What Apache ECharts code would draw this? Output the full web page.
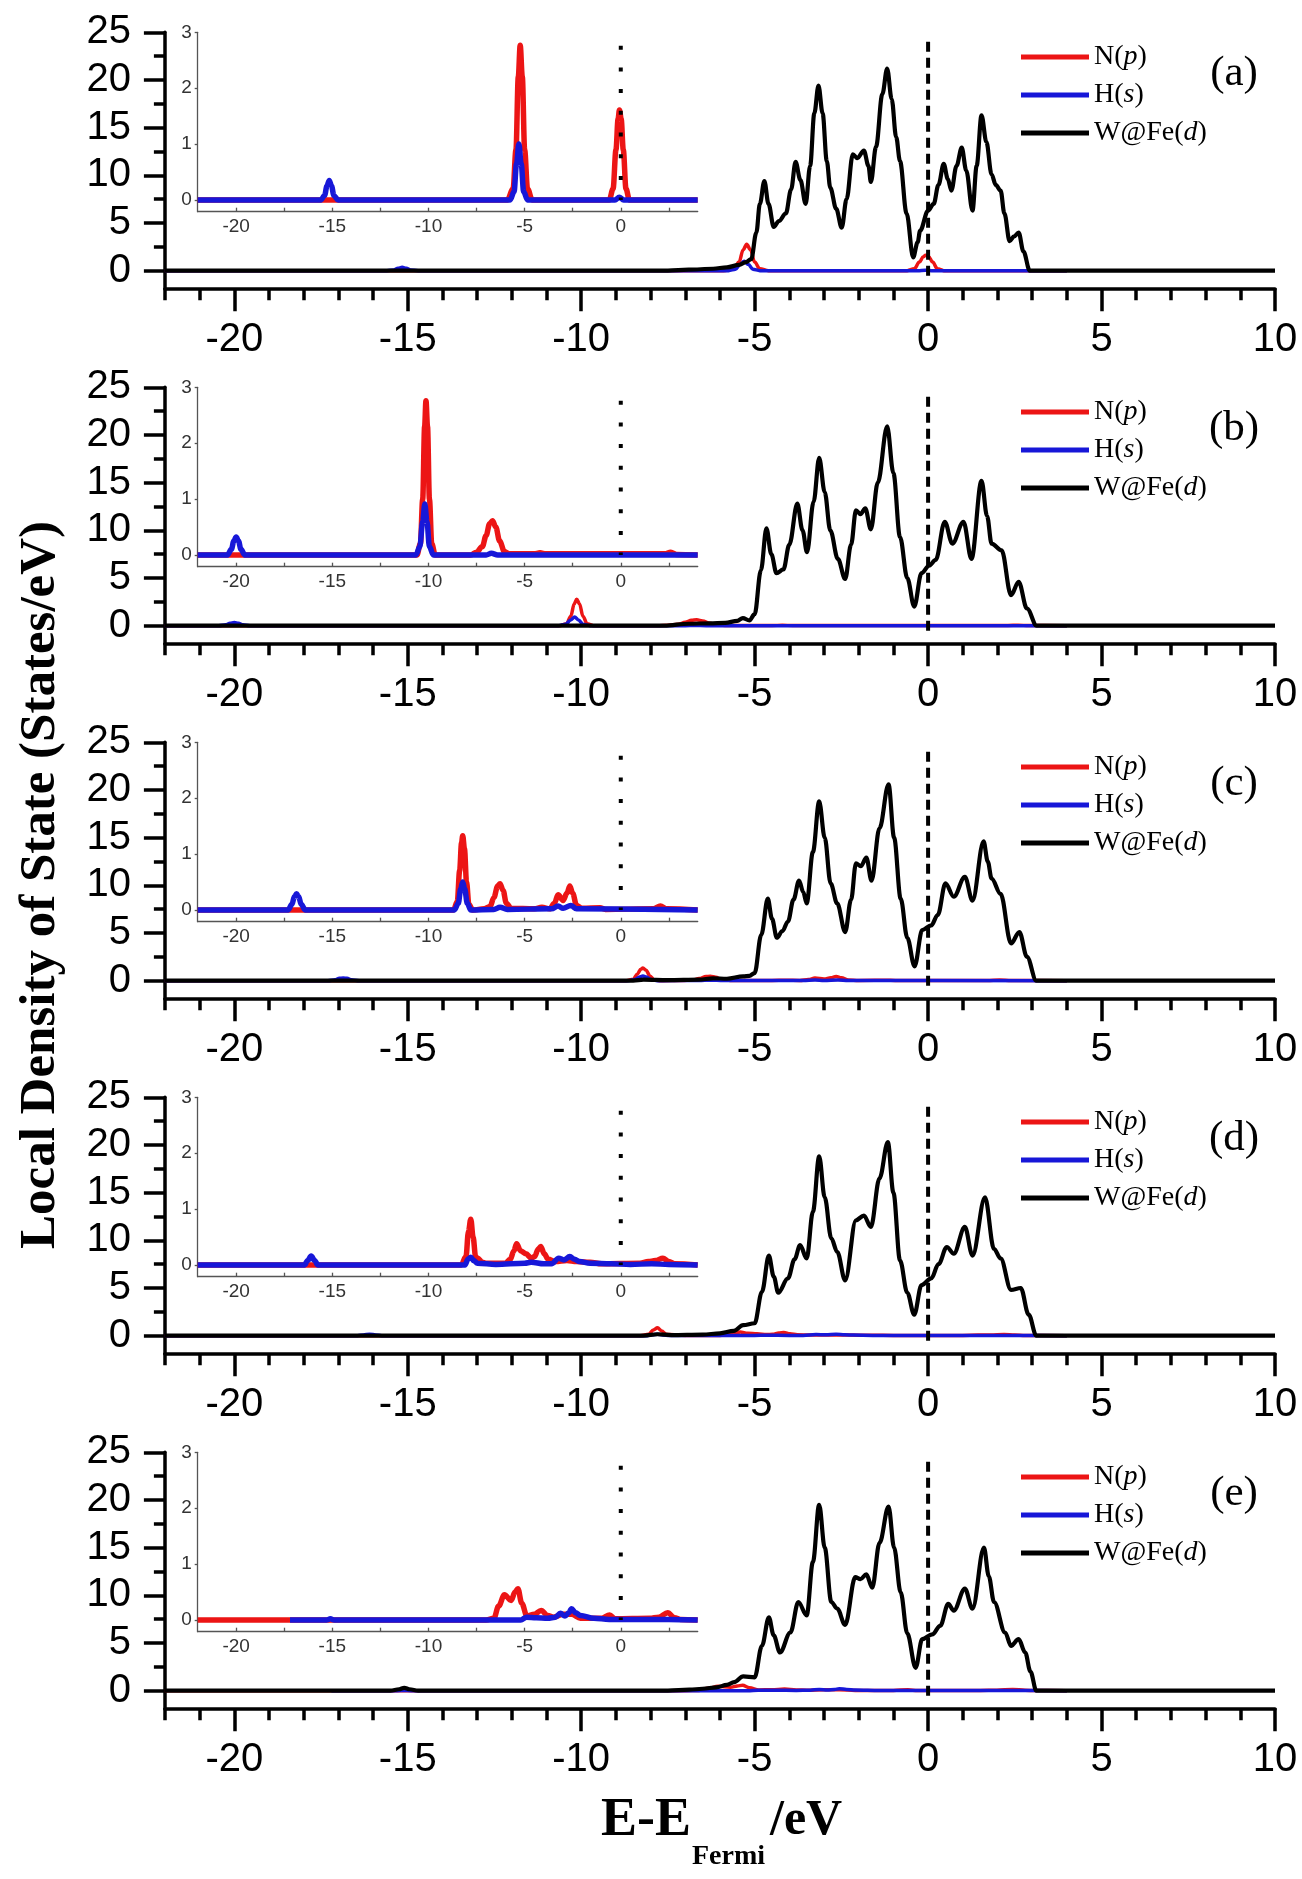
<!DOCTYPE html>
<html>
<head>
<meta charset="utf-8">
<script src="https://cdn.jsdelivr.net/npm/echarts@6/dist/echarts.min.js"></script>
<style>
  html, body { margin: 0; padding: 0; background: #fff; }
  #chart { width: 1302px; height: 1879px; }
</style>
</head>
<body>
<div id="chart"></div>
<script>
// ---- labels and ticks ----
const panelTags = ['(a)', '(b)', '(c)', '(d)', '(e)'];
const seriesNames = ['N(p)', 'H(s)', 'W@Fe(d)'];
const mainXTicks = [-20, -15, -10, -5, 0, 5, 10];
const mainYTicks = [0, 5, 10, 15, 20, 25];
const mainYMinorTicks = [2.5, 7.5, 12.5, 17.5, 22.5];
const insetXLabels = [-20, -15, -10, -5, 0];
const insetXTicks = [-20, -17.5, -15, -12.5, -10, -7.5, -5, -2.5, 0, 2.5];
const insetYTicks = [0, 1, 2, 3];
const fermiDash = [[0, 24], [0, -0.8]];
const fermiDots = [[0, 2.76], [0, 0]];

// ---- (a) ----
const wdA = [[-22,0],[-7.5,0],[-6.9,0.1],[-6.2,0.2],[-5.8,0.35],[-5.45,0.6],[-5.25,0.9],[-5.1,1.2],[-4.95,4],[-4.85,7],[-4.72,9.4],[-4.6,7],[-4.45,4.6],[-4.3,5.2],[-4.1,6.0],[-3.95,8.5],[-3.82,11.4],[-3.68,9.5],[-3.53,7.0],[-3.4,11],[-3.28,16.5],[-3.16,19.4],[-3.04,16.5],[-2.92,11.5],[-2.82,8.7],[-2.65,6.5],[-2.49,4.5],[-2.35,7.5],[-2.17,12.2],[-2.04,11.8],[-1.85,12.6],[-1.72,11],[-1.65,9.3],[-1.5,13],[-1.32,18.5],[-1.18,21.2],[-1.05,18],[-0.92,14],[-0.81,11.5],[-0.62,6],[-0.43,1.4],[-0.3,3.0],[-0.23,4.2],[0,6.3],[0.16,7.0],[0.3,9.0],[0.45,11.2],[0.57,9.6],[0.67,8.4],[0.82,11],[0.97,12.9],[1.1,10.5],[1.28,6.3],[1.4,11],[1.54,16.3],[1.68,13.5],[1.83,10.1],[1.95,9.0],[2.09,8.4],[2.2,6.0],[2.35,3.1],[2.48,3.6],[2.61,4.0],[2.75,2.0],[2.93,0],[10,0]];
const npA = [[-22,0],[-5.9,0],[-5.6,0.2],[-5.45,0.9],[-5.33,2.2],[-5.23,2.77],[-5.12,2.2],[-5.0,0.9],[-4.85,0.2],[-4.6,0],[-0.6,0],[-0.4,0.2],[-0.25,0.9],[-0.14,1.45],[-0.07,1.61],[0.02,1.45],[0.13,0.9],[0.27,0.2],[0.45,0],[4,0]];
const hsA = [[-22,0],[-15.6,0],[-15.4,0.08],[-15.28,0.25],[-15.16,0.35],[-15.04,0.25],[-14.92,0.08],[-14.7,0],[-5.75,0],[-5.55,0.15],[-5.42,0.65],[-5.3,1.0],[-5.18,0.65],[-5.05,0.15],[-4.85,0],[-0.3,0],[-0.08,0.05],[0.15,0],[4,0]];

// ---- (b) ----
const wdB = [[-22,0],[-7.6,0],[-6.9,0.2],[-6.3,0.25],[-5.85,0.3],[-5.5,0.5],[-5.34,0.8],[-5.15,0.55],[-5.0,1.2],[-4.82,5.8],[-4.66,10.2],[-4.52,7.5],[-4.37,5.5],[-4.17,5.9],[-4.0,8.5],[-3.77,12.8],[-3.62,10],[-3.49,7.7],[-3.3,13],[-3.14,17.6],[-2.98,14],[-2.82,10],[-2.6,7],[-2.39,4.9],[-2.22,8.5],[-2.08,12.1],[-1.95,11.7],[-1.81,12.3],[-1.65,10.1],[-1.45,15],[-1.18,20.9],[-1.0,16],[-0.81,9.3],[-0.6,5],[-0.4,2.0],[-0.19,5.5],[0.03,6.3],[0.22,6.9],[0.48,10.9],[0.7,8.6],[1.02,10.9],[1.25,7.0],[1.54,15.2],[1.7,11.5],[1.83,8.6],[2.12,7.9],[2.39,3.2],[2.61,4.6],[2.85,1.8],[3.13,0],[10,0]];
const npB = [[-22,0],[-10.6,0],[-10.42,0.2],[-10.3,1.0],[-10.2,2.3],[-10.13,2.76],[-10.05,2.3],[-9.95,1.0],[-9.83,0.2],[-9.65,0],[-7.8,0],[-7.5,0.05],[-7.2,0.15],[-7.0,0.35],[-6.82,0.56],[-6.67,0.61],[-6.5,0.5],[-6.3,0.25],[-6.05,0.06],[-5.8,0.02],[-4.5,0.02],[-4.2,0.04],[-3.9,0.02],[2.3,0.02],[2.6,0.05],[2.9,0.01],[4,0]];
const hsB = [[-22,0],[-20.45,0],[-20.25,0.1],[-20.12,0.25],[-20.0,0.32],[-19.88,0.25],[-19.75,0.1],[-19.55,0],[-10.65,0],[-10.45,0.15],[-10.3,0.6],[-10.19,0.91],[-10.08,0.6],[-9.95,0.15],[-9.75,0],[-7.0,0],[-6.73,0.03],[-6.4,0],[4,0]];

// ---- (c) ----
const wdC = [[-22,0],[-8.5,0],[-8.2,0.1],[-7.5,0.05],[-6.6,0.1],[-6.2,0.25],[-5.8,0.2],[-5.33,0.45],[-5.15,0.5],[-5.0,0.8],[-4.81,4.8],[-4.62,8.6],[-4.5,6.5],[-4.36,4.5],[-4.2,5.2],[-4.04,6.2],[-3.88,8.5],[-3.72,10.5],[-3.6,9.3],[-3.5,8.1],[-3.32,13.5],[-3.14,18.8],[-2.98,15],[-2.81,10.2],[-2.62,8.1],[-2.39,5.1],[-2.22,8.5],[-2.08,12.3],[-1.94,12],[-1.78,12.9],[-1.63,10.5],[-1.4,16],[-1.14,20.6],[-0.98,15],[-0.79,8.6],[-0.6,4.5],[-0.39,1.5],[-0.17,5.3],[0.09,5.8],[0.28,6.9],[0.5,10.2],[0.74,8.8],[1.06,10.9],[1.28,8.4],[1.6,14.6],[1.72,12.5],[1.83,10.7],[2.09,9.1],[2.39,3.9],[2.63,5.1],[2.85,2.5],[3.12,0],[10,0]];
const npC = [[-22,0],[-8.7,0],[-8.5,0.15],[-8.38,0.7],[-8.28,1.2],[-8.22,1.33],[-8.13,1.1],[-8.02,0.5],[-7.9,0.1],[-7.7,0],[-7.1,0.02],[-6.8,0.06],[-6.6,0.22],[-6.4,0.43],[-6.28,0.47],[-6.12,0.35],[-5.95,0.12],[-5.7,0.03],[-4.5,0.02],[-4.1,0.05],[-3.7,0.02],[-3.45,0.12],[-3.26,0.27],[-3.0,0.17],[-2.8,0.3],[-2.65,0.43],[-2.5,0.3],[-2.3,0.08],[-2.0,0.03],[-1.08,0.04],[-0.8,0.01],[1.7,0.02],[2.06,0.07],[2.4,0.02],[4,0]];
const hsC = [[-22,0],[-17.3,0],[-17.1,0.1],[-16.97,0.24],[-16.86,0.29],[-16.75,0.24],[-16.62,0.1],[-16.4,0],[-8.65,0],[-8.45,0.12],[-8.32,0.38],[-8.22,0.5],[-8.12,0.38],[-7.98,0.12],[-7.8,0],[-6.6,0.01],[-6.28,0.05],[-5.9,0.01],[-3.6,0.02],[-3.26,0.07],[-3.0,0.03],[-2.6,0.08],[-2.3,0.02],[4,0]];

// ---- (d) ----
const wdD = [[-22,0],[-8.2,0],[-7.8,0.15],[-7.4,0.05],[-6.5,0.1],[-6.0,0.25],[-5.6,0.5],[-5.33,1.1],[-5.0,1.3],[-4.79,4.6],[-4.59,8.4],[-4.45,6.2],[-4.32,4.5],[-4.04,6.0],[-3.85,8],[-3.69,9.5],[-3.5,8.1],[-3.32,13],[-3.14,18.8],[-2.98,14.5],[-2.79,10.2],[-2.62,8.8],[-2.39,5.8],[-2.08,12.1],[-1.85,12.6],[-1.65,11.4],[-1.4,16.5],[-1.16,20.3],[-1.0,15],[-0.81,7.9],[-0.6,4.5],[-0.4,2.2],[-0.19,5.3],[0.09,6.0],[0.3,7.5],[0.54,9.3],[0.74,8.6],[1.06,11.4],[1.28,8.4],[1.64,14.5],[1.9,9.1],[2.09,8.1],[2.39,4.8],[2.67,5.0],[2.9,2.2],[3.12,0],[10,0]];
const npD = [[-22,0],[-8.3,0],[-8.05,0.15],[-7.92,0.6],[-7.8,0.82],[-7.68,0.5],[-7.55,0.15],[-7.44,0.12],[-7.2,0.05],[-7.0,0.03],[-6.0,0.03],[-5.75,0.1],[-5.56,0.25],[-5.42,0.38],[-5.2,0.25],[-4.93,0.2],[-4.65,0.12],[-4.48,0.15],[-4.3,0.28],[-4.16,0.33],[-3.98,0.2],[-3.77,0.1],[-3.4,0.06],[-2.8,0.08],[-2.3,0.06],[-1.6,0.05],[-1.0,0.02],[1.0,0.03],[1.43,0.06],[1.8,0.08],[2.19,0.12],[2.5,0.06],[2.8,0.02],[4,0]];
const hsD = [[-22,0],[-16.45,0],[-16.28,0.08],[-16.1,0.16],[-15.92,0.08],[-15.75,0],[-8.1,0],[-7.95,0.1],[-7.8,0.14],[-7.65,0.08],[-7.45,0.03],[-6.5,0.01],[-5.0,0.03],[-4.66,0.05],[-4.0,0.02],[-3.6,0.02],[-3.23,0.12],[-2.95,0.09],[-2.65,0.15],[-2.4,0.1],[-2.15,0.06],[-1.6,0.03],[-0.5,0.02],[0.5,0.01],[1.6,0.02],[2.5,0.01],[4,0]];

// ---- (e) ----
const wdE = [[-22,0],[-15.5,0],[-15.25,0.15],[-15.1,0.3],[-14.95,0.15],[-14.7,0],[-7.5,0],[-6.88,0.1],[-6.5,0.2],[-6.1,0.35],[-5.8,0.6],[-5.59,0.9],[-5.33,1.5],[-5.0,1.4],[-4.79,4.7],[-4.59,7.7],[-4.45,5.8],[-4.27,4.0],[-3.97,6.1],[-3.74,9.3],[-3.5,7.9],[-3.32,13.5],[-3.14,19.5],[-2.98,15],[-2.79,9.3],[-2.62,8.6],[-2.39,6.9],[-2.1,11.9],[-1.95,11.7],[-1.78,12.2],[-1.61,10.8],[-1.4,15.5],[-1.14,19.3],[-0.98,15],[-0.79,10.3],[-0.6,6],[-0.36,2.4],[-0.17,5.4],[0.12,5.9],[0.35,6.8],[0.58,9.1],[0.74,8.4],[1.06,10.7],[1.28,8.6],[1.61,15.0],[1.75,12],[1.9,9.3],[2.22,6.1],[2.39,4.7],[2.61,5.4],[2.8,4.0],[2.95,2],[3.12,0],[10,0]];
const npE = [[-22,0],[-7.0,0],[-6.6,0.03],[-6.35,0.25],[-6.05,0.45],[-5.7,0.35],[-5.5,0.5],[-5.35,0.56],[-5.15,0.3],[-4.88,0.07],[-4.5,0.1],[-4.14,0.17],[-3.8,0.08],[-3.5,0.05],[-3.0,0.1],[-2.56,0.1],[-2.1,0.03],[-1.0,0.03],[-0.58,0.09],[-0.3,0.02],[1.5,0.03],[1.98,0.05],[2.44,0.13],[2.8,0.04],[3.1,0.01],[4,0]];
const hsE = [[-17.2,0],[-15.3,0],[-15.1,0.02],[-14.9,0],[-5.2,0],[-4.9,0.05],[-4.4,0.04],[-3.8,0.03],[-3.4,0.05],[-3.14,0.12],[-2.9,0.07],[-2.7,0.13],[-2.56,0.2],[-2.35,0.13],[-2.1,0.08],[-1.4,0.03],[-0.6,0.01],[1.0,0.01],[2.5,0.01],[4,0]];

const panels = [
  { wd: wdA, np: npA, hs: hsA },
  { wd: wdB, np: npB, hs: hsB },
  { wd: wdC, np: npC, hs: hsC },
  { wd: wdD, np: npD, hs: hsD },
  { wd: wdE, np: npE, hs: hsE }
];

// ---- layout ----
const STEP = 355;
const MAIN = { left: 164.9, top: 32.3, width: 1110.1, height: 256 };
const INSET = { left: 197.7, top: 32.3, width: 500, height: 179.4 };
const RED = '#ec1515';
const BLUE = '#1717d8';
const SANS = 'Liberation Sans';
const SERIF = 'Liberation Serif';

const grid = [], xAxis = [], yAxis = [], series = [], legend = [], graphic = [];

const noSplit = { show: false };

panels.forEach((p, k) => {
  const off = STEP * k;
  grid.push({ left: MAIN.left, top: MAIN.top + off, width: MAIN.width, height: MAIN.height });
  grid.push({ left: INSET.left, top: INSET.top + off, width: INSET.width, height: INSET.height });
  const gMain = 2 * k, gIn = 2 * k + 1;
  const ax = 3 * k;

  // main x: labelled ticks, then unit minor ticks
  xAxis.push({
    type: 'value', gridIndex: gMain, min: -22, max: 10, position: 'bottom',
    axisLine: { onZero: false, lineStyle: { color: '#000', width: 3.5 } },
    axisTick: { customValues: mainXTicks, length: 23, lineStyle: { color: '#000', width: 3.5 } },
    axisLabel: { customValues: mainXTicks, fontSize: 40, fontFamily: SANS, color: '#000', margin: 32 },
    splitLine: noSplit
  });
  xAxis.push({
    type: 'value', gridIndex: gMain, min: -22, max: 10, interval: 1, position: 'bottom',
    axisLine: { show: false, onZero: false },
    axisTick: { length: 12, lineStyle: { color: '#000', width: 3.5 } },
    axisLabel: { show: false }, splitLine: noSplit
  });
  // inset x
  xAxis.push({
    type: 'value', gridIndex: gIn, min: -22, max: 4, position: 'bottom',
    axisLine: { onZero: false, lineStyle: { color: '#555', width: 1.3 } },
    axisTick: { customValues: insetXTicks, length: 4, inside: true, lineStyle: { color: '#555', width: 1.3 } },
    axisLabel: { customValues: insetXLabels, fontSize: 19, fontFamily: SANS, color: '#333', margin: 6 },
    splitLine: noSplit
  });

  // main y
  yAxis.push({
    type: 'value', gridIndex: gMain, min: -1.85, max: 25, position: 'left',
    axisLine: { onZero: false, lineStyle: { color: '#000', width: 3.5 } },
    axisTick: { customValues: mainYTicks, length: 21, lineStyle: { color: '#000', width: 3.5 } },
    axisLabel: { customValues: mainYTicks, fontSize: 40, fontFamily: SANS, color: '#000', margin: 34 },
    splitLine: noSplit
  });
  yAxis.push({
    type: 'value', gridIndex: gMain, min: -1.85, max: 25, position: 'left',
    axisLine: { show: false, onZero: false },
    axisTick: { customValues: mainYMinorTicks, length: 11, lineStyle: { color: '#000', width: 3.5 } },
    axisLabel: { show: false }, splitLine: noSplit
  });
  // inset y
  yAxis.push({
    type: 'value', gridIndex: gIn, min: -0.21, max: 3, position: 'left',
    axisLine: { onZero: false, lineStyle: { color: '#555', width: 1.3 } },
    axisTick: { customValues: insetYTicks, length: 3, lineStyle: { color: '#555', width: 1.3 } },
    axisLabel: { customValues: insetYTicks, fontSize: 19, fontFamily: SANS, color: '#333', margin: 6 },
    splitLine: noSplit
  });

  const lineBase = { type: 'line', symbol: 'none', smooth: 0.35, smoothMonotone: 'x', animation: false };

  // main panel curves
  series.push(Object.assign({}, lineBase, {
    name: seriesNames[0], xAxisIndex: ax, yAxisIndex: ax, data: p.np, z: 2,
    color: RED, itemStyle: { color: RED }, lineStyle: { color: RED, width: 3.5 }
  }));
  series.push(Object.assign({}, lineBase, {
    name: seriesNames[1], xAxisIndex: ax, yAxisIndex: ax, data: p.hs, z: 3,
    color: BLUE, itemStyle: { color: BLUE }, lineStyle: { color: BLUE, width: 3.5 }
  }));
  series.push(Object.assign({}, lineBase, {
    name: seriesNames[2], xAxisIndex: ax, yAxisIndex: ax, data: p.wd, z: 4,
    color: '#000', itemStyle: { color: '#000' }, lineStyle: { color: '#000', width: 4.2 }
  }));
  // Fermi level
  series.push({
    type: 'line', name: 'EF', xAxisIndex: ax, yAxisIndex: ax, data: fermiDash, symbol: 'none',
    animation: false, z: 5, lineStyle: { color: '#000', width: 4, type: [10, 6] }
  });

  // inset curves
  series.push(Object.assign({}, lineBase, {
    name: seriesNames[0], xAxisIndex: ax + 2, yAxisIndex: ax + 2, data: p.np, z: 6,
    color: RED, itemStyle: { color: RED }, lineStyle: { color: RED, width: 5.5 }
  }));
  series.push(Object.assign({}, lineBase, {
    name: seriesNames[1], xAxisIndex: ax + 2, yAxisIndex: ax + 2, data: p.hs, z: 7,
    color: BLUE, itemStyle: { color: BLUE }, lineStyle: { color: BLUE, width: 5.5 }
  }));
  series.push({
    type: 'line', name: 'EF', xAxisIndex: ax + 2, yAxisIndex: ax + 2, data: fermiDots, symbol: 'none',
    animation: false, z: 8, lineStyle: { color: '#000', width: 4, type: [4, 17.7] }
  });

  legend.push({
    data: seriesNames, orient: 'vertical', left: 1021, top: 42 + off, padding: 0,
    itemWidth: 68, itemHeight: 5, itemGap: 8, icon: 'rect', selectedMode: false,
    formatter: name => {
      const m = name.match(/^(.*)\((.)\)$/);
      return m[1] + '({i|' + m[2] + '})';
    },
    textStyle: {
      fontFamily: SERIF, fontSize: 28, color: '#000', lineHeight: 30,
      rich: { i: { fontFamily: SERIF, fontSize: 28, fontStyle: 'italic', color: '#000', lineHeight: 30 } }
    }
  });

  graphic.push({
    type: 'text', x: 1234, y: 74 + off, z: 10,
    style: { text: panelTags[k], font: '43px "' + SERIF + '"', fill: '#000', align: 'center', verticalAlign: 'middle' }
  });
});

// axis titles
graphic.push({
  type: 'text', x: 41, y: 885, rotation: Math.PI / 2,
  style: { text: 'Local Density of State (States/eV)', font: 'bold 51px "' + SERIF + '"', fill: '#000', align: 'center', verticalAlign: 'middle' }
});
graphic.push({
  type: 'text', x: 601, y: 1821,
  style: { text: 'E-E', font: 'bold 54px "' + SERIF + '"', fill: '#000', align: 'left', verticalAlign: 'middle' }
});
graphic.push({
  type: 'text', x: 692, y: 1857,
  style: { text: 'Fermi', font: 'bold 28px "' + SERIF + '"', fill: '#000', align: 'left', verticalAlign: 'middle' }
});
graphic.push({
  type: 'text', x: 770, y: 1821,
  style: { text: '/eV', font: 'bold 50px "' + SERIF + '"', fill: '#000', align: 'left', verticalAlign: 'middle' }
});

const chart = echarts.init(document.getElementById('chart'), null, { renderer: 'canvas' });
chart.setOption({
  animation: false,
  backgroundColor: '#fff',
  grid, xAxis, yAxis, series, legend, graphic
});
</script>
</body>
</html>
